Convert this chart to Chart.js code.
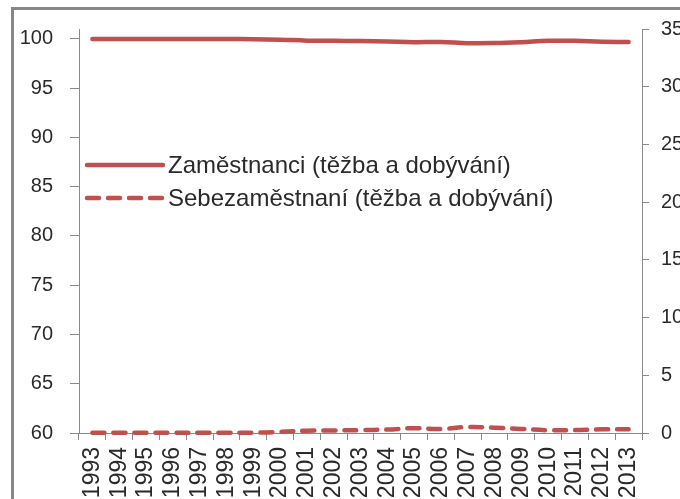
<!DOCTYPE html>
<html lang="cs">
<head>
<meta charset="utf-8">
<script src="https://cdn.jsdelivr.net/npm/chart.js@4.4.1/dist/chart.umd.min.js"></script>
<style>
  html, body { margin: 0; padding: 0; width: 680px; height: 499px; overflow: hidden; background: #fff; }
  #frame { position: absolute; left: 11px; top: 7px; width: 800px; height: 600px;
           border-left: 3px solid #878787; border-top: 3px solid #878787; }
  #wrap { position: absolute; left: 0; top: 0; width: 720px; height: 560px; }
  #legend { position: absolute; left: 84px; top: 148px; font: 24px "Liberation Sans", Arial, sans-serif; color: #2a2a2a; }
  .item { display: flex; align-items: center; height: 33px; white-space: nowrap; }
  .item svg { width: 82px; height: 10px; margin-right: 2px; }
</style>
</head>
<body>
<div id="frame"></div>
<div id="wrap"><canvas id="chart"></canvas></div>
<div id="legend"></div>
<script>
// categories
const years = ['1993', '1994', '1995', '1996', '1997', '1998', '1999', '2000', '2001', '2002', '2003',
  '2004', '2005', '2006', '2007', '2008', '2009', '2010', '2011', '2012', '2013'];

// podíl v % (levá osa: zaměstnanci, pravá osa: sebezaměstnaní)
const employed = [99.98, 99.98, 99.98, 99.98, 99.98, 99.98, 99.97, 99.92, 99.82, 99.8, 99.78,
  99.72, 99.66, 99.68, 99.56, 99.57, 99.66, 99.8, 99.8, 99.7, 99.68];
const selfEmployed = [0.02, 0.02, 0.02, 0.02, 0.02, 0.02, 0.02, 0.1, 0.2, 0.22, 0.25,
  0.3, 0.42, 0.34, 0.52, 0.46, 0.35, 0.24, 0.25, 0.32, 0.32];

const labels = ['Zaměstnanci (těžba a dobývání)', 'Sebezaměstnaní (těžba a dobývání)'];

const leftTicks = [60, 65, 70, 75, 80, 85, 90, 95, 100];
const rightTicks = [0, 5, 10, 15, 20, 25, 30, 35];

const RED = '#C0504D';
const AXIS = '#8a8a8a';
const TEXT = '#2a2a2a';
const FONT = '"Liberation Sans", Arial, sans-serif';

// HTML legend
const legend = document.getElementById('legend');
labels.forEach((text, i) => {
  const dash = i === 1 ? 'stroke-dasharray="12 9"' : '';
  legend.insertAdjacentHTML('beforeend',
    `<div class="item"><svg viewBox="0 0 82 10"><line x1="3" y1="5" x2="79" y2="5" stroke="${RED}" stroke-width="4.5" stroke-linecap="round" ${dash}/></svg><span>${text}</span></div>`);
});

new Chart(document.getElementById('chart'), {
  type: 'line',
  data: {
    labels: years,
    datasets: [
      {
        label: labels[0],
        data: employed,
        yAxisID: 'y',
        borderColor: RED,
        borderWidth: 4.5,
        borderCapStyle: 'round',
        pointRadius: 0,
        tension: 0.4,
      },
      {
        label: labels[1],
        data: selfEmployed,
        yAxisID: 'y1',
        borderColor: RED,
        borderWidth: 4.5,
        borderDash: [12, 9],
        borderCapStyle: 'round',
        pointRadius: 0,
        tension: 0.4,
        clip: 6,
      },
    ],
  },
  options: {
    responsive: true,
    maintainAspectRatio: false,
    animation: false,
    layout: { padding: { top: 27, left: 0, right: 0, bottom: 0 } },
    plugins: {
      legend: { display: false },
      tooltip: { enabled: false },
    },
    scales: {
      x: {
        offset: true,
        grid: { offset: true, drawOnChartArea: false, tickLength: 7, color: AXIS },
        border: { color: AXIS },
        ticks: {
          autoSkip: false, minRotation: 90, maxRotation: 90, padding: 7,
          color: TEXT, font: { family: FONT, size: 23 },
        },
        afterFit: (s) => { s.height = 127; },
      },
      y: {
        position: 'left',
        min: 60,
        max: 101,
        afterBuildTicks: (s) => { s.ticks = leftTicks.map((v) => ({ value: v })); },
        grid: { drawOnChartArea: false, tickLength: 9, color: AXIS },
        border: { color: AXIS },
        ticks: { padding: 17, color: TEXT, font: { family: FONT, size: 20 } },
        afterFit: (s) => { s.width = 79; },
      },
      y1: {
        position: 'right',
        min: 0,
        max: 35,
        afterBuildTicks: (s) => { s.ticks = rightTicks.map((v) => ({ value: v })); },
        grid: { drawOnChartArea: false, tickLength: 7, color: AXIS },
        border: { color: AXIS },
        ticks: { padding: 12, color: TEXT, font: { family: FONT, size: 20 } },
        afterFit: (s) => { s.width = 78; },
      },
    },
  },
});
</script>
</body>
</html>
